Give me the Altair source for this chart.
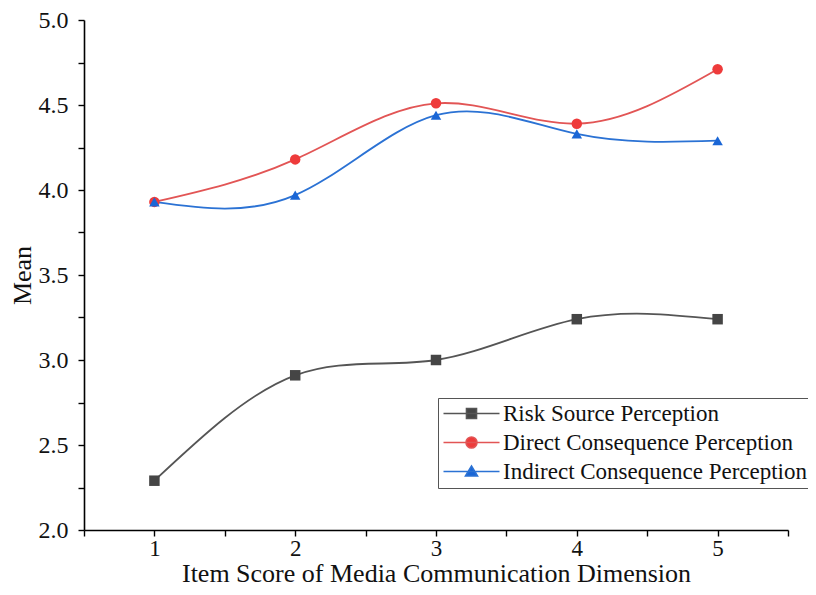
import altair as alt
import pandas as pd

items = [1, 2, 3, 4, 5]
series_names = ["Risk Source Perception", "Direct Consequence Perception", "Indirect Consequence Perception"]
risk_source = [2.29, 2.91, 3.00, 3.24, 3.24]
direct_cons = [3.93, 4.18, 4.51, 4.39, 4.71]
indirect_cons = [3.93, 3.97, 4.44, 4.33, 4.29]

line_colors = ["#555555", "#e25555", "#2b72d4"]
marker_colors = ["#454545", "#ee3b3b", "#1a66d6"]

rows = []
for name, vals in zip(series_names, [risk_source, direct_cons, indirect_cons]):
    for x, v in zip(items, vals):
        rows.append({"item": x, "mean": v, "series": name})
df = pd.DataFrame(rows)

FONT = "Liberation Serif"

x_enc = alt.X(
    "item:Q",
    scale=alt.Scale(domain=[0.5, 5.5], nice=False, zero=False),
    axis=alt.Axis(
        title="Item Score of Media Communication Dimension",
        values=[0.5, 1, 1.5, 2, 2.5, 3, 3.5, 4, 4.5, 5, 5.5],
        labelExpr="datum.value % 1 == 0 ? format(datum.value, 'd') : ''",
        grid=False,
    ),
)
y_enc = alt.Y(
    "mean:Q",
    scale=alt.Scale(domain=[2.0, 5.0], nice=False, zero=False),
    axis=alt.Axis(
        title="Mean",
        values=[2.0, 2.25, 2.5, 2.75, 3.0, 3.25, 3.5, 3.75, 4.0, 4.25, 4.5, 4.75, 5.0],
        labelExpr="datum.value % 0.5 == 0 ? format(datum.value, '.1f') : ''",
        grid=False,
    ),
)

lines = alt.Chart(df).mark_line(interpolate="natural", strokeWidth=1.8).encode(
    x=x_enc,
    y=y_enc,
    color=alt.Color("series:N", scale=alt.Scale(domain=series_names, range=line_colors), legend=None),
    detail="series:N",
)

markers = alt.Chart(df).mark_point(filled=True, opacity=1, size=110).encode(
    x=x_enc,
    y=y_enc,
    color=alt.Color("series:N", scale=alt.Scale(domain=series_names, range=marker_colors), legend=None),
    shape=alt.Shape("series:N", scale=alt.Scale(domain=series_names, range=["square", "circle", "triangle-up"]), legend=None),
)

legend_shapes = [
    "M-2.8,0H2.8M-0.5,-0.5H0.5V0.5H-0.5Z",
    "M-2.8,0H2.8M-0.55,0A0.55,0.55 0 1,0 0.55,0A0.55,0.55 0 1,0 -0.55,0Z",
    "M-2.8,0H2.8M-0.6,0.45L0,-0.55L0.6,0.45Z",
]

leg = alt.Legend(
    title=None,
    orient="none",
    legendX=354,
    legendY=378,
    labelFont=FONT,
    labelFontSize=23,
    labelColor="#111111",
    symbolSize=400,
    symbolStrokeWidth=1.6,
    symbolOffset=18,
    labelOffset=20,
    rowPadding=5,
    strokeColor="#555555",
    fillColor="white",
    padding=4,
    labelLimit=400,
)

legend_layer = alt.Chart(df).transform_filter("false").mark_point(filled=True, opacity=1).encode(
    x=x_enc,
    y=y_enc,
    color=alt.Color("series:N", scale=alt.Scale(domain=series_names, range=marker_colors), legend=leg),
    stroke=alt.Stroke("series:N", scale=alt.Scale(domain=series_names, range=line_colors), legend=leg),
    shape=alt.Shape("series:N", scale=alt.Scale(domain=series_names, range=legend_shapes), legend=leg),
)

chart = (
    alt.layer(lines, markers, legend_layer)
    .resolve_scale(color="independent", shape="independent", stroke="independent")
    .properties(
        width=704,
        height=510,
        autosize=alt.AutoSizeParams(type="none"),
        padding={"left": 76, "top": 12, "right": 20, "bottom": 57},
        background="white",
    )
    .configure_view(stroke=None)
    .configure_axis(
        labelFont=FONT,
        titleFont=FONT,
        labelFontSize=24,
        titleFontSize=26,
        titleFontWeight="normal",
        labelColor="#111111",
        titleColor="#111111",
        domainColor="#000000",
        domainWidth=1.6,
        tickColor="#000000",
        tickWidth=1.4,
        tickSize=6,
    )
    .configure_axisX(labelPadding=1, titlePadding=0, labelFontSize=23)
    .configure_axisY(labelPadding=10, titlePadding=3)
)

chart.save("out.html", embed_options={"renderer": "svg", "actions": False})
